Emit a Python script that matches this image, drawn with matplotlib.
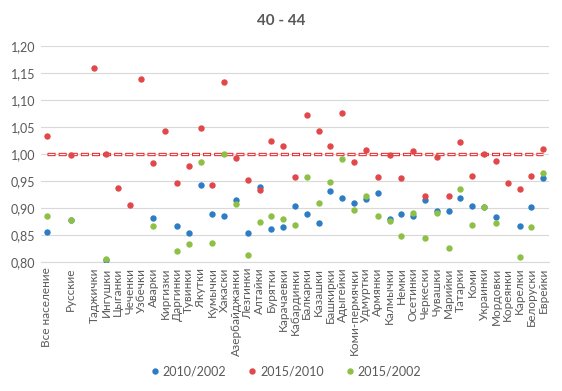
"""Ratio plot for the 40 - 44 age group."""

import numpy as np
import matplotlib
matplotlib.use("Agg")
import matplotlib.pyplot as plt

nan = np.nan

categories = ["Все население", "", "Русские", "", "Таджички", "Ингушки", "Цыганки",
              "Чеченки", "Узбечки", "Аварки", "Киргизки", "Даргинки", "Тувинки",
              "Якутки", "Кумычки", "Хакаски", "Азербайджанки", "Лезгинки", "Алтайки",
              "Бурятки", "Карачаевки", "Кабардинки", "Балкарки", "Казашки", "Башкирки",
              "Адыгейки", "Коми-пермячки", "Удмуртки", "Армянки", "Калмычки", "Немки",
              "Осетинки", "Черкески", "Чувашки", "Марийки", "Татарки", "Коми",
              "Украинки", "Мордовки", "Кореянки", "Карелки", "Белоруски", "Еврейки"]

ratio_2010_2002 = [0.856, nan, 0.878, nan, nan, 0.803, nan, nan, nan, 0.881, nan, 0.866,
                   0.853, 0.942, 0.888, 0.885, 0.915, 0.853, 0.939, 0.862, 0.865, 0.904,
                   0.889, 0.872, 0.932, 0.918, 0.910, 0.917, 0.927, 0.880, 0.888, 0.886,
                   0.915, 0.895, 0.894, 0.918, 0.903, 0.901, 0.883, nan, 0.866, 0.901, 0.955]

ratio_2015_2010 = [1.033, nan, 0.999, nan, 1.160, 1.001, 0.938, 0.905, 1.140, 0.983, 1.042,
                   0.946, 0.977, 1.048, 0.942, 1.133, 0.992, 0.951, 0.933, 1.025, 1.014,
                   0.958, 1.073, 1.042, 1.015, 1.077, 0.985, 1.007, 0.957, 0.998, 0.955,
                   1.006, 0.922, 0.994, 0.923, 1.022, 0.960, 1.001, 0.988, 0.946, 0.936,
                   0.960, 1.010]

ratio_2015_2002 = [0.886, nan, 0.878, nan, nan, 0.806, nan, nan, nan, 0.866, nan, 0.820,
                   0.833, 0.986, 0.836, 1.001, 0.907, 0.812, 0.875, 0.885, 0.879, 0.868,
                   0.957, 0.909, 0.948, 0.990, 0.896, 0.923, 0.886, 0.876, 0.849, 0.891,
                   0.844, 0.891, 0.825, 0.936, 0.868, 0.901, 0.873, nan, 0.810, 0.864, 0.964]

series_names = ["2010/2002", "2015/2010", "2015/2002"]
baseline = 1.0
y_ticks = [0.80, 0.85, 0.90, 0.95, 1.00, 1.05, 1.10, 1.15, 1.20]


def main():
    plt.rcParams["font.family"] = ["Lato", "DejaVu Sans"]
    plt.rcParams["lines.scale_dashes"] = False
    grey = "#595959"
    colors = ["#2E7DC4", "#E2474A", "#8DC044"]

    fig = plt.figure(figsize=(5.62, 3.91), dpi=100)
    ax = fig.add_axes([0.073, 0.330, 0.904, 0.552])

    x = np.arange(len(categories))
    ax.set_axisbelow(True)
    ax.grid(axis="y", color="#D9D9D9", lw=0.8)

    # reference line at 1.00 (outlined dashes)
    ax.plot(x, [baseline] * len(x), color="#E8292B", lw=2.4,
            ls=(0, (5.8, 2.2)), solid_capstyle="butt", zorder=2)
    ax.plot(x, [baseline] * len(x), color="white", lw=0.9,
            ls=(7.3, (4.4, 3.6)), zorder=2)

    for vals, name, c in zip([ratio_2010_2002, ratio_2015_2010, ratio_2015_2002],
                             series_names, colors):
        ax.plot(x, vals, "o", ms=4.6, color=c, mec="none", label=name, zorder=3)

    ax.set_xlim(-0.5, len(categories) - 0.5)
    ax.set_ylim(0.80, 1.20)
    ax.set_yticks(y_ticks)
    ax.set_yticklabels([f"{v:.2f}".replace(".", ",") for v in y_ticks],
                       fontsize=9, color=grey)
    ax.set_xticks(x)
    ax.set_xticklabels(categories, rotation=90, fontsize=8.5, color=grey)
    ax.tick_params(length=0, pad=4)
    for side in ["top", "right", "left"]:
        ax.spines[side].set_visible(False)
    ax.spines["bottom"].set_color("#D9D9D9")

    fig.text(0.5, 0.947, "40 - 44", ha="center", va="center",
             fontsize=11, fontweight="bold", color=grey)
    fig.legend(loc="center", bbox_to_anchor=(0.507, 0.049), ncol=3, frameon=False,
               fontsize=9, handletextpad=0.1, columnspacing=1.6, markerscale=1.0,
               labelcolor=grey, handlelength=1.0)

    fig.savefig("out.png", dpi=100)


if __name__ == "__main__":
    main()
